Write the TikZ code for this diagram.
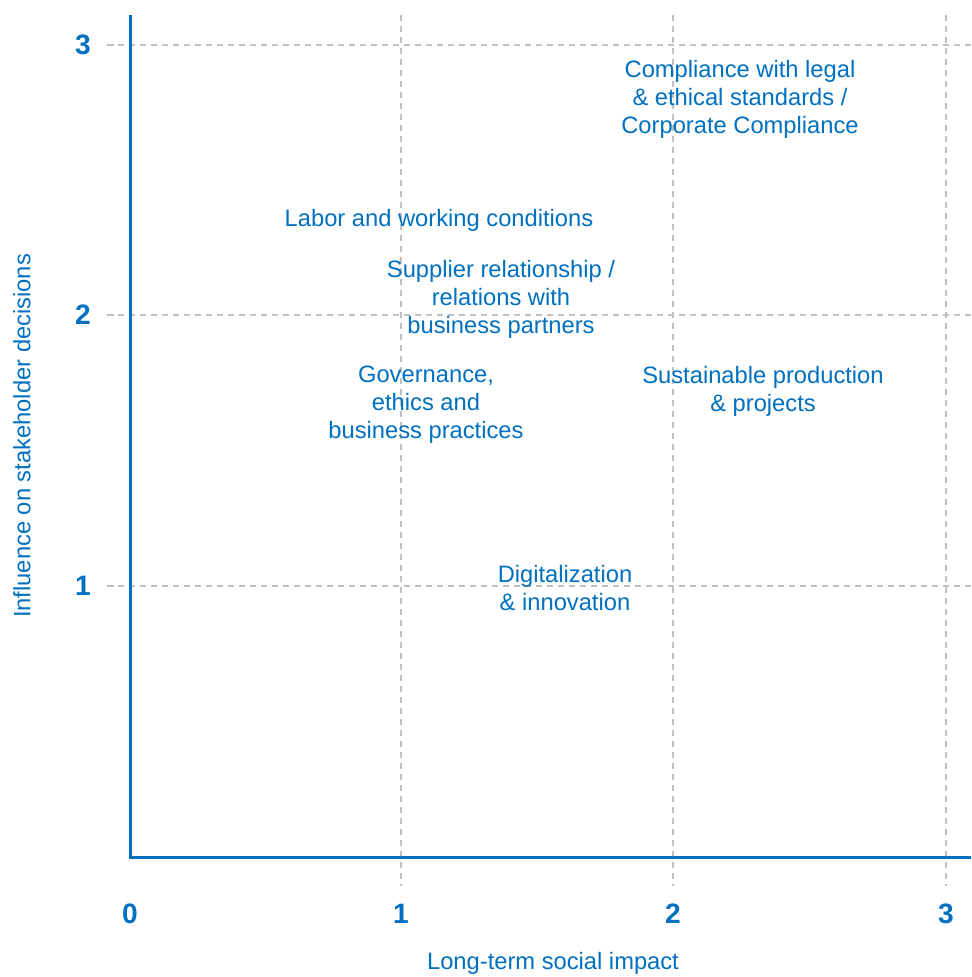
\documentclass[tikz,border=0pt]{standalone}
\usepackage{fontspec}
\setmainfont{Liberation Sans}
\definecolor{axblue}{RGB}{0,112,192}
\definecolor{gridgray}{RGB}{192,192,192}
\begin{document}
\begin{tikzpicture}[x=0.02cm,y=-0.02cm,
  grid/.style={draw=gridgray,line width=0.03cm,dash pattern=on 0.13cm off 0.09cm},
  axis/.style={draw=axblue,line width=0.06cm},
  ticklab/.style={text=axblue,font=\fontsize{16}{19}\selectfont\bfseries,inner sep=0pt},
  lab/.style={text=axblue,font=\fontsize{13.5}{15.9}\selectfont,align=center,inner sep=0pt},
  axtitle/.style={text=axblue,font=\fontsize{13.5}{15.9}\selectfont,inner sep=0pt}]
\useasboundingbox[fill=white] (0,0) rectangle (971,977);
% grid
\coordinate (h3a) at (107,45);  \coordinate (h3b) at (971,45);
\coordinate (h2a) at (107,315); \coordinate (h2b) at (971,315);
\coordinate (h1a) at (107,586); \coordinate (h1b) at (971,586);
\coordinate (v1a) at (401,15);  \coordinate (v1b) at (401,886);
\coordinate (v2a) at (673,15);  \coordinate (v2b) at (673,886);
\coordinate (v3a) at (946,15);  \coordinate (v3b) at (946,886);
\foreach \g in {h3,h2,h1,v1,v2,v3} \draw[grid] (\g a) -- (\g b);
% axes
\coordinate (top) at (130,15);
\coordinate (origin) at (130,857);
\coordinate (right) at (971,857);
\draw[axis] (top) -- (origin) -- (right);
% tick labels
\node[ticklab] (y3) at (83,45) {3};
\node[ticklab] (y2) at (83,315) {2};
\node[ticklab] (y1) at (83,586) {1};
\node[ticklab] (x0) at (130,914) {0};
\node[ticklab] (x1) at (401,914) {1};
\node[ticklab] (x2) at (673,914) {2};
\node[ticklab] (x3) at (946,914) {3};
% axis titles
\node[axtitle] (xt) at (553,963) {Long-term social impact};
\node[axtitle,rotate=90] (yt) at (22,436) {Influence on stakeholder decisions};
% labels
\node[lab] (comp) at (740,99) {Compliance with legal\\ \& ethical standards /\\ Corporate Compliance};
\node[lab] (labor) at (439,220) {Labor and working conditions};
\node[lab] (supp) at (501,299) {Supplier relationship /\\ relations with\\ business partners};
\node[lab] (gov) at (426,405) {Governance,\\ ethics and\\ business practices};
\node[lab] (sust) at (763,391) {Sustainable production\\ \& projects};
\node[lab] (dig) at (565,588) {Digitalization\\ \& innovation};
\end{tikzpicture}
\end{document}
